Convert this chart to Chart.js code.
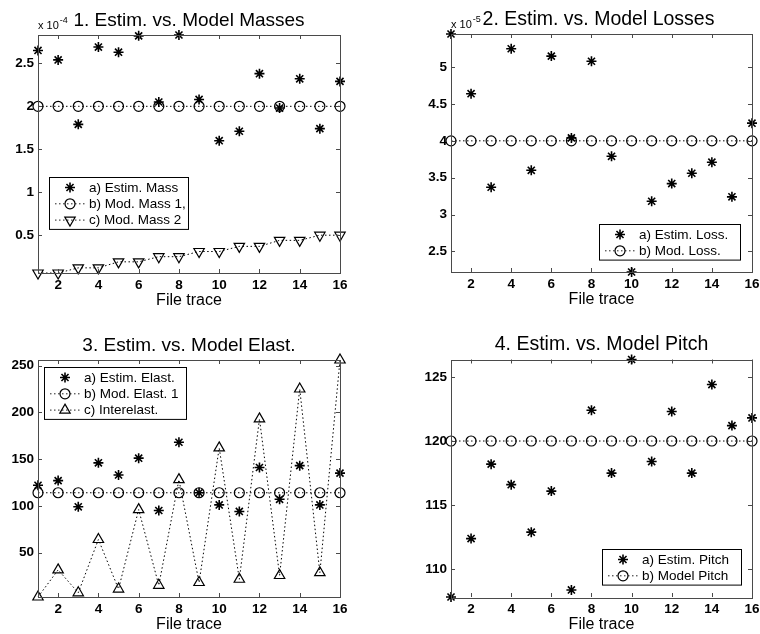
<!DOCTYPE html>
<html><head><meta charset="utf-8">
<script src="https://cdn.jsdelivr.net/npm/chart.js@4.4.1/dist/chart.umd.min.js"></script>
<style>
html,body{margin:0;padding:0;background:#fff;}
#wrap{position:relative;width:760px;height:634px;overflow:hidden;background:#fff;}
canvas{position:absolute;left:0;top:0;}
</style></head><body>
<div id="wrap">
<canvas id="c1" width="760" height="634"></canvas>
<canvas id="c2" width="760" height="634"></canvas>
<canvas id="c3" width="760" height="634"></canvas>
<canvas id="c4" width="760" height="634"></canvas>
</div>
<script>
// ---- data ----
const fileTrace = [1,2,3,4,5,6,7,8,9,10,11,12,13,14,15,16];
const xTickVals = [2,4,6,8,10,12,14,16];

// Plot 1 (values x 1e-4)
const estMass  = [2.65,2.54,1.79,2.69,2.63,2.82,2.05,2.83,2.08,1.60,1.71,2.38,1.98,2.32,1.74,2.29];
const modMass1 = [2,2,2,2,2,2,2,2,2,2,2,2,2,2,2,2];
const modMass2 = [0.06,0.06,0.12,0.12,0.19,0.19,0.25,0.25,0.31,0.31,0.37,0.37,0.44,0.44,0.5,0.5];
const massTicks = [0.5,1,1.5,2,2.5];

// Plot 2 (values x 1e-5)
const estLoss = [5.45,4.64,3.37,5.25,3.60,5.15,4.04,5.08,3.79,2.22,3.18,3.42,3.56,3.71,3.24,4.24];
const modLoss = [4,4,4,4,4,4,4,4,4,4,4,4,4,4,4,4];
const lossTicks = [2.5,3,3.5,4,4.5,5];

// Plot 3
const estElast = [122,127,99,146,133,151,95,168,114,101,94,141,107,143,101,135];
const modElast = [114,114,114,114,114,114,114,114,114,114,114,114,114,114,114,114];
const interElast = [2.5,31.5,7,64,11,96,15,128,18,162,21.5,193,25.5,225,28.5,256];
const elastTicks = [50,100,150,200,250];

// Plot 4
const estPitch = [107.85,112.4,118.2,116.6,112.9,116.1,108.4,122.4,117.5,126.35,118.4,122.3,117.5,124.4,121.2,121.8];
const modPitch = [120,120,120,120,120,120,120,120,120,120,120,120,120,120,120,120];
const pitchTicks = [110,115,120,125];

// ---- drawing helpers ----
const FONT = '"Liberation Sans", Arial, Helvetica, sans-serif';
Chart.defaults.font.family = FONT;
Chart.defaults.color = '#000';

function drawMarker(ctx, style, x, y) {
  ctx.save();
  ctx.strokeStyle = '#000';
  ctx.setLineDash([]);
  ctx.beginPath();
  if (style === 'star') {
    ctx.lineWidth = 1.6;
    const r = 5;
    for (let k = 0; k < 4; k++) {
      const a = k * Math.PI / 4;
      ctx.moveTo(x + r * Math.cos(a), y + r * Math.sin(a));
      ctx.lineTo(x - r * Math.cos(a), y - r * Math.sin(a));
    }
  } else if (style === 'circle') {
    ctx.lineWidth = 1.2;
    ctx.arc(x, y, 5, 0, Math.PI * 2);
  } else {
    ctx.lineWidth = 1.2;
    const r = 6;
    let rad = style === 'triDown' ? Math.PI : 0;
    for (let k = 0; k < 3; k++) {
      const px = x + Math.sin(rad) * r, py = y - Math.cos(rad) * r;
      if (k === 0) ctx.moveTo(px, py); else ctx.lineTo(px, py);
      rad += 2 * Math.PI / 3;
    }
    ctx.closePath();
  }
  ctx.stroke();
  ctx.restore();
}

const matlabPlugin = {
  id: 'matlabAxes',
  afterDraw(chart, args, o) {
    const ctx = chart.ctx;
    const a = chart.chartArea;
    const xs = chart.scales.x, ys = chart.scales.y;
    ctx.save();
    // frame
    ctx.strokeStyle = '#4a4a4a';
    ctx.lineWidth = 1;
    ctx.setLineDash([]);
    ctx.strokeRect(Math.round(a.left) + 0.5, Math.round(a.top) + 0.5,
                   Math.round(a.right - a.left), Math.round(a.bottom - a.top));
    // inward ticks on all four sides
    ctx.beginPath();
    o.xTicks.forEach(v => {
      const px = Math.round(xs.getPixelForValue(v)) + 0.5;
      ctx.moveTo(px, a.bottom); ctx.lineTo(px, a.bottom - 4);
      ctx.moveTo(px, a.top); ctx.lineTo(px, a.top + 4);
    });
    o.yTicks.forEach(v => {
      const py = Math.round(ys.getPixelForValue(v)) + 0.5;
      ctx.moveTo(a.left, py); ctx.lineTo(a.left + 4, py);
      ctx.moveTo(a.right, py); ctx.lineTo(a.right - 4, py);
    });
    ctx.stroke();
    // title
    ctx.fillStyle = '#000';
    ctx.font = (o.titleSize || 19) + 'px ' + FONT;
    ctx.textAlign = 'center';
    ctx.textBaseline = 'alphabetic';
    ctx.fillText(o.title, (a.left + a.right) / 2 + (o.titleShift || 0), a.top - 9.5);
    // exponent label
    if (o.exponent) {
      ctx.textAlign = 'left';
      ctx.font = '11px ' + FONT;
      ctx.fillText('x 10', a.left, a.top - 6);
      const w = ctx.measureText('x 10').width;
      ctx.font = '9px ' + FONT;
      ctx.fillText(o.exponent, a.left + w + 1, a.top - 12);
    }
    // legend
    const L = o.legend;
    const rowH = 16.3;
    const ds = chart.data.datasets;
    const h = ds.length * rowH + 3;
    ctx.fillStyle = '#fff';
    ctx.fillRect(L.x, L.y, L.w, h);
    ctx.strokeStyle = '#000';
    ctx.lineWidth = 1;
    ctx.strokeRect(L.x + 0.5, L.y + 0.5, L.w, h);
    ctx.font = '13.5px ' + FONT;
    ctx.textAlign = 'left';
    ctx.textBaseline = 'middle';
    ds.forEach((d, i) => {
      const cy = L.y + 10.5 + i * rowH;
      if (d.showLine) {
        ctx.save();
        ctx.strokeStyle = '#222';
        ctx.setLineDash([1.5, 2.5]);
        ctx.beginPath();
        ctx.moveTo(L.x + 6, cy); ctx.lineTo(L.x + 36, cy);
        ctx.stroke();
        ctx.restore();
      }
      drawMarker(ctx, d.markerKind, L.x + 21, cy);
      ctx.fillStyle = '#000';
      ctx.fillText(d.label, L.x + 40, cy + 0.5);
    });
    ctx.restore();
  }
};

function series(label, values, kind, line) {
  const base = {
    label: label,
    data: fileTrace.map((x, i) => ({x: x, y: values[i]})),
    markerKind: kind,
    showLine: line,
    borderColor: '#000',
    backgroundColor: 'rgba(0,0,0,0)',
    borderWidth: 1,
    borderDash: [1.5, 2.5],
    pointBorderColor: '#000',
    pointBackgroundColor: 'rgba(0,0,0,0)',
    clip: false,
    tension: 0
  };
  if (kind === 'star') { base.pointStyle = 'star'; base.pointRadius = 5; base.pointBorderWidth = 1.6; }
  else if (kind === 'circle') { base.pointStyle = 'circle'; base.pointRadius = 5; base.pointBorderWidth = 1.2; }
  else { base.pointStyle = 'triangle'; base.pointRadius = 6; base.pointBorderWidth = 1.2; base.pointRotation = kind === 'triDown' ? 180 : 0; }
  base.pointHoverRadius = base.pointRadius;
  return base;
}

function makeChart(id, area, titleOpts, exponent, yTicks, datasets, legend) {
  const yw = 30, xh = 37;
  let all = [];
  datasets.forEach(d => d.data.forEach(p => all.push(p.y)));
  const ymin = Math.min(...all), ymax = Math.max(...all);
  return new Chart(document.getElementById(id), {
    type: 'scatter',
    data: {datasets: datasets},
    plugins: [matlabPlugin],
    options: {
      responsive: false,
      animation: false,
      events: [],
      layout: {padding: {left: area.L - yw, right: 760 - area.R, top: area.T, bottom: 634 - area.B - xh}},
      plugins: {
        legend: {display: false},
        tooltip: {enabled: false},
        title: {display: false},
        matlabAxes: {title: titleOpts.text, titleSize: titleOpts.size, titleShift: titleOpts.shift,
                     exponent: exponent, xTicks: xTickVals, yTicks: yTicks, legend: legend}
      },
      scales: {
        x: {
          type: 'linear', position: 'bottom', min: 1, max: 16,
          grid: {display: false, drawTicks: false}, border: {display: false},
          afterBuildTicks: s => { s.ticks = xTickVals.map(v => ({value: v})); },
          afterFit: s => { s.height = xh; s.paddingLeft = 0; s.paddingRight = 0; },
          ticks: {padding: 4, font: {size: 13.5, weight: 'bold'}, color: '#000', maxRotation: 0, autoSkip: false, callback: v => String(v)},
          title: {display: true, text: 'File trace', font: {size: 16}, color: '#000', padding: {top: 0, bottom: 0}}
        },
        y: {
          type: 'linear', position: 'left', min: ymin, max: ymax,
          grid: {display: false, drawTicks: false}, border: {display: false},
          afterBuildTicks: s => { s.ticks = yTicks.map(v => ({value: v})); },
          afterFit: s => { s.width = yw; s.paddingTop = 0; s.paddingBottom = 0; },
          ticks: {padding: 4, font: {size: 13.5, weight: 'bold'}, color: '#000', autoSkip: false, callback: v => String(v)}
        }
      }
    }
  });
}

makeChart('c1', {L: 38, R: 340, T: 35, B: 273}, {text: '1. Estim. vs. Model Masses', size: 19}, '-4', massTicks, [
  series('a) Estim. Mass', estMass, 'star', false),
  series('b) Mod. Mass 1,', modMass1, 'circle', true),
  series('c) Mod. Mass 2', modMass2, 'triDown', true)
], {x: 49, y: 177, w: 139});

makeChart('c2', {L: 451, R: 752, T: 34, B: 272}, {text: '2. Estim. vs. Model Losses', size: 19.5, shift: -3}, '-5', lossTicks, [
  series('a) Estim. Loss.', estLoss, 'star', false),
  series('b) Mod. Loss.', modLoss, 'circle', true)
], {x: 599, y: 224, w: 141});

makeChart('c3', {L: 38, R: 340, T: 360, B: 597}, {text: '3. Estim. vs. Model Elast.', size: 19}, null, elastTicks, [
  series('a) Estim. Elast.', estElast, 'star', false),
  series('b) Mod. Elast. 1', modElast, 'circle', true),
  series('c) Interelast.', interElast, 'triUp', true)
], {x: 44, y: 367, w: 142});

makeChart('c4', {L: 451, R: 752, T: 359.5, B: 597}, {text: '4. Estim. vs. Model Pitch', size: 19.5}, null, pitchTicks, [
  series('a) Estim. Pitch', estPitch, 'star', false),
  series('b) Model Pitch', modPitch, 'circle', true)
], {x: 602, y: 549, w: 139});
</script>
</body></html>
